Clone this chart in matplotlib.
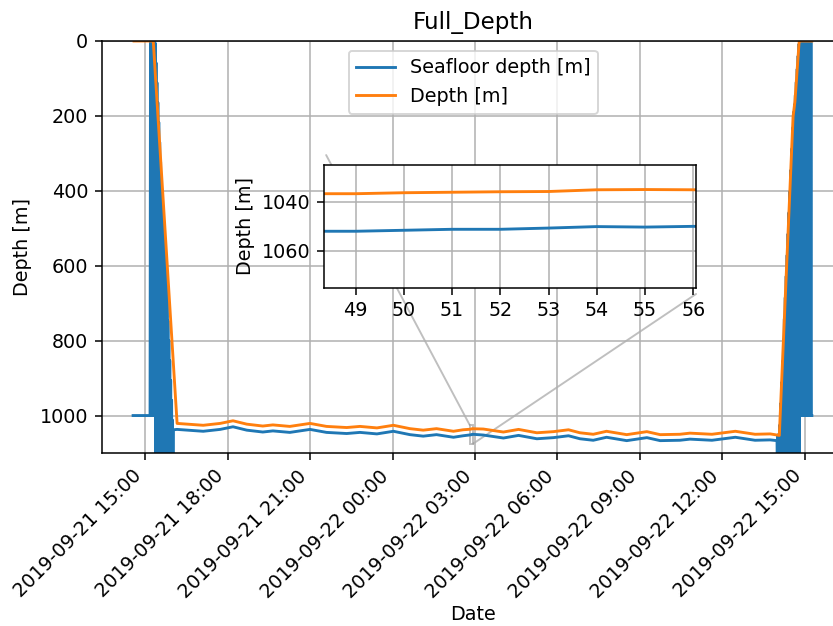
import matplotlib
matplotlib.use('Agg')

import matplotlib.dates as mdates
import matplotlib.pyplot as plt
import numpy as np
from matplotlib.patches import ConnectionPatch, Rectangle


# Figure size in pixels
WIDTH = 833
HEIGHT = 626
DPI = 138

# All times are minutes after 2019-09-21 00:00
BASE_DAY = np.datetime64('2019-09-21T00:00')

# Depth of the vehicle [m]
DEPTH_MIN = [876, 918, 944, 970, 1027, 1064, 1092, 1122, 1157, 1179, 1216,
             1260, 1296, 1340, 1369, 1406, 1442, 1478, 1507, 1536, 1573,
             1594, 1607, 1608, 1609, 1610, 1611, 1612, 1613, 1614, 1615,
             1616, 1617, 1638, 1682, 1715, 1755, 1791, 1824, 1849, 1878,
             1907, 1951, 1995, 2024, 2067, 2089, 2137, 2188, 2231, 2264,
             2284, 2314, 2318, 2327, 2328, 2355]
DEPTH_VAL = [0, 0, 510, 1021, 1026, 1021, 1014, 1023, 1028, 1025, 1029,
             1021, 1029, 1032, 1029, 1033, 1026, 1035, 1039, 1035, 1042,
             1038, 1036.8, 1036.7, 1036.7, 1036.3, 1036.1, 1035.9, 1035.8,
             1035.1, 1035.0, 1035.1, 1035.3, 1036, 1044, 1037, 1046, 1043,
             1038, 1046, 1050, 1042, 1051, 1043, 1051, 1050, 1047, 1050,
             1042, 1050, 1049, 1053, 202, 162, 6, 0, 0]

# Seafloor depth [m] (depth + altitude), noisy while diving / surfacing
SEAFLOOR_MIN = [874, 911,
                912, 913, 914, 915, 916, 917, 918, 919, 920, 921,
                922, 923, 924, 925, 926, 927, 928, 929, 930, 931,
                932, 933, 934, 935, 936, 937, 938, 939, 940, 941,
                942, 943, 944, 945, 946, 947, 948, 949, 950, 951,
                952, 953, 954, 955, 956, 957, 958, 959, 960, 961,
                962, 970, 1027, 1064, 1092, 1122, 1157, 1179, 1216, 1260,
                1296, 1340, 1369, 1406, 1442, 1478, 1507, 1536, 1573, 1594,
                1607, 1608, 1609, 1610, 1611, 1612, 1613, 1614, 1615, 1616,
                1617, 1638, 1682, 1715, 1755, 1791, 1824, 1849, 1878, 1907,
                1951, 1995, 2024, 2067, 2089, 2137, 2188, 2231, 2264, 2279,
                2280, 2281, 2282, 2283, 2284, 2285, 2286, 2287, 2288, 2289,
                2290, 2291, 2292, 2293, 2294, 2295, 2296, 2297, 2298, 2299,
                2300, 2301, 2302, 2303, 2304, 2305, 2306, 2307, 2308, 2309,
                2310, 2311, 2312, 2313, 2314, 2315, 2316, 2317, 2318, 2319,
                2320, 2321, 2322, 2323, 2324, 2325, 2326, 2327, 2328,
                2329, 2330, 2331, 2332, 2333, 2334, 2335, 2336, 2337, 2338,
                2339, 2340, 2341, 2342, 2343, 2344, 2345, 2346, 2347, 2348,
                2349, 2350, 2351, 2352, 2353, 2354, 2355]
SEAFLOOR_VAL = [1000, 1000,
                3, 1000, 4, 1000, 2, 1000, 5, 1000, 4, 1000,
                5, 1200, 58, 1200, 111, 1200, 164, 1200, 217, 1200,
                270, 1200, 323, 1200, 376, 1200, 429, 1200, 482, 1200,
                535, 1200, 588, 1200, 641, 1200, 694, 1200, 747, 1200,
                800, 1200, 853, 1200, 906, 1200, 959, 1200, 1012, 1200,
                1038, 1037, 1042, 1037, 1030, 1039, 1044, 1041, 1045, 1037,
                1045, 1048, 1045, 1049, 1042, 1051, 1055, 1051, 1058, 1054,
                1052.1, 1052.0, 1052.0, 1051.6, 1051.2, 1051.2, 1050.7,
                1050.1, 1050.3, 1050.0,
                1050.2, 1052, 1060, 1053, 1062, 1059, 1054, 1062, 1066, 1058,
                1067, 1059, 1067, 1066, 1063, 1066, 1058, 1066, 1065, 1067,
                1200, 1052, 1200, 1050, 1200, 1025, 1200, 968, 1200, 912,
                1200, 855, 1200, 798, 1200, 742, 1200, 685, 1200, 628,
                1200, 572, 1200, 515, 1200, 458, 1200, 402, 1200, 345,
                1200, 288, 1200, 232, 1200, 190, 1200, 170, 1200, 145,
                1200, 110, 1200, 75, 1200, 40, 1200, 8, 1200,
                2, 1000, 3, 1000, 1, 1000, 4, 1000, 2, 1000,
                3, 1000, 1, 1000, 2, 1000, 4, 1000, 3, 1000,
                1, 1000, 2, 1000, 3, 1000, 1000]

# Axis ranges (minutes after BASE_DAY)
MAIN_XLIM = (805.5, 2427.3)
MAIN_YLIM = (1100, 0)
ZOOM_XLIM = (1608.35, 1616.05)
ZOOM_YLIM = (1075, 1025)
ZOOM_YTICKS = [1040, 1060]


def to_time(minutes):
    """Minutes after BASE_DAY -> datetime64."""
    secs = np.round(np.asarray(minutes, dtype=float) * 60).astype(int)
    return BASE_DAY + secs.astype('timedelta64[s]')


def fig_rect(left, top, right, bottom):
    """Pixel box -> figure fraction [left, bottom, width, height]."""
    return [left / WIDTH, 1 - bottom / HEIGHT,
            (right - left) / WIDTH, (bottom - top) / HEIGHT]


def main():
    fig = plt.figure(figsize=(WIDTH / DPI, HEIGHT / DPI), dpi=DPI)
    ax = fig.add_axes(fig_rect(101.7, 41, 845, 453))

    t_sea = to_time(SEAFLOOR_MIN)
    t_depth = to_time(DEPTH_MIN)

    ax.plot(t_sea, SEAFLOOR_VAL, color='C0', label='Seafloor depth [m]')
    ax.plot(t_depth, DEPTH_VAL, color='C1', label='Depth [m]')

    ax.set_xlim(to_time(MAIN_XLIM))
    ax.set_ylim(*MAIN_YLIM)
    ax.xaxis.set_major_locator(mdates.HourLocator(byhour=range(0, 24, 3)))
    ax.xaxis.set_major_formatter(mdates.DateFormatter('%Y-%m-%d %H:%M'))
    plt.setp(ax.get_xticklabels(), rotation=45, ha='right')
    ax.grid(True)
    ax.set_title('Full_Depth')
    ax.set_xlabel('Date', labelpad=2)
    ax.set_ylabel('Depth [m]')
    ax.legend(loc='upper center')

    # Zoomed inset
    axins = fig.add_axes(fig_rect(324.3, 165, 695.7, 287.7))
    axins.plot(t_sea, SEAFLOOR_VAL, color='C0')
    axins.plot(t_depth, DEPTH_VAL, color='C1')
    axins.set_xlim(to_time(ZOOM_XLIM))
    axins.set_ylim(*ZOOM_YLIM)
    axins.set_yticks(ZOOM_YTICKS)
    axins.xaxis.set_major_locator(mdates.MinuteLocator())
    axins.xaxis.set_major_formatter(mdates.DateFormatter('%M'))
    axins.grid(True)
    axins.set_ylabel('Depth [m]')

    # Mark the zoomed region and connect it to the inset
    x0, x1 = mdates.date2num(to_time(ZOOM_XLIM))
    y_top, y_bot = ZOOM_YLIM[1], ZOOM_YLIM[0]
    ax.add_patch(Rectangle((x0, y_top), x1 - x0, y_bot - y_top,
                           fill=False, edgecolor='0.5', alpha=0.5))
    for xy_a, xy_b in [((x0, y_top), (0.005, 1.081)),
                       ((x1, y_bot), (1.001, -0.051))]:
        con = ConnectionPatch(xyA=xy_a, coordsA=ax.transData,
                              xyB=xy_b, coordsB=axins.transAxes,
                              color='0.5', alpha=0.5)
        ax.add_artist(con)

    fig.savefig('out.png', dpi=DPI)
    plt.close('all')


if __name__ == '__main__':
    main()
